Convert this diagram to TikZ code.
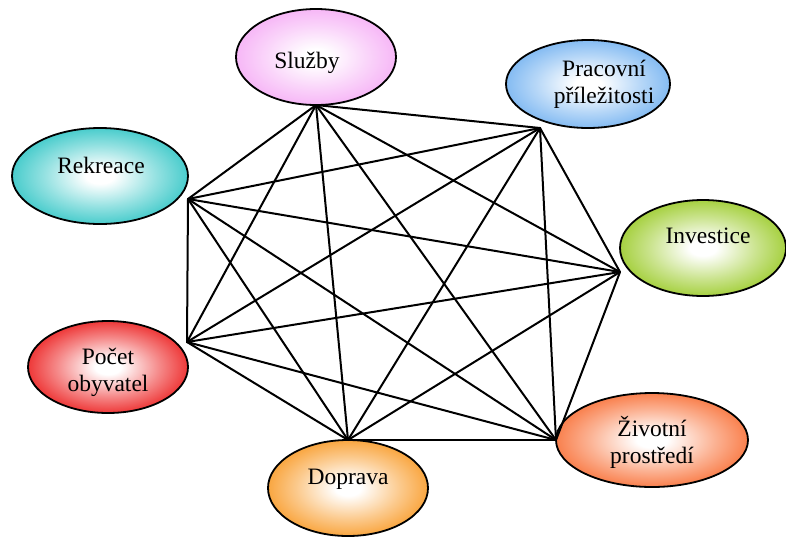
\documentclass[tikz,border=0pt]{standalone}
\usepackage{fontspec}
\setmainfont{Liberation Serif}
\usetikzlibrary{shapes.geometric}
\definecolor{cSl}{RGB}{245,170,245}
\definecolor{cPr}{RGB}{110,175,240}
\definecolor{cRe}{RGB}{40,195,195}
\definecolor{cIn}{RGB}{150,200,30}
\definecolor{cPo}{RGB}{235,20,20}
\definecolor{cDo}{RGB}{248,150,30}
\definecolor{cZi}{RGB}{248,105,45}
\newcommand\mkshade[2]{\pgfdeclareradialshading{#1}{\pgfpoint{0bp}{0bp}}{color(0bp)=(white); color(4bp)=(white); color(16bp)=(#2!50!white); color(29bp)=(#2); color(50bp)=(#2)}}
\mkshade{shSl}{cSl}
\mkshade{shPr}{cPr}
\mkshade{shRe}{cRe}
\mkshade{shIn}{cIn}
\mkshade{shPo}{cPo}
\mkshade{shDo}{cDo}
\mkshade{shZi}{cZi}
\begin{document}
\begin{tikzpicture}[x=1pt,y=-1pt,
  bubble/.style={ellipse, draw=black, line width=1.8pt, inner sep=0pt},
  lbl/.style={font=\fontsize{23.5}{27}\selectfont, align=center, inner sep=0pt},
  link/.style={line width=2pt, line cap=round}]
\useasboundingbox (0,0) rectangle (786,536);
% ellipses
\node[bubble, shading=shSl, minimum width=160pt, minimum height=96pt] (eSl) at (316,57) {};
\node[bubble, shading=shPr, minimum width=164pt, minimum height=88pt] (ePr) at (588,84) {};
\node[bubble, shading=shRe, minimum width=176pt, minimum height=96pt] (eRe) at (100,176) {};
\node[bubble, shading=shIn, minimum width=166pt, minimum height=96pt] (eIn) at (703,248) {};
\node[bubble, shading=shPo, minimum width=160pt, minimum height=92pt] (ePo) at (108,367) {};
\node[bubble, shading=shDo, minimum width=160pt, minimum height=96pt] (eDo) at (348,488) {};
\node[bubble, shading=shZi, minimum width=192pt, minimum height=94pt] (eZi) at (652,440) {};
% texts
\node[lbl, anchor=base] (tSl) at (307,68) {Služby};
\node[lbl] (tPr) at (604,84) {Pracovní\\příležitosti};
\node[lbl, anchor=base] (tRe) at (101,173) {Rekreace};
\node[lbl, anchor=base] (tIn) at (708,243) {Investice};
\node[lbl] (tPo) at (108,372) {Počet\\obyvatel};
\node[lbl, anchor=base] (tDo) at (348,484) {Doprava};
\node[lbl] (tZi) at (652,442) {Životní\\prostředí};
% graph vertices
\coordinate (vS) at (316,105);
\coordinate (vP) at (540,128);
\coordinate (vR) at (188,199);
\coordinate (vI) at (620,272);
\coordinate (vO) at (187,342);
\coordinate (vD) at (348,440);
\coordinate (vZ) at (556,440);
\foreach \a/\b in {vS/vP,vS/vR,vS/vI,vS/vO,vS/vD,vS/vZ,
                   vP/vR,vP/vI,vP/vO,vP/vD,vP/vZ,
                   vR/vI,vR/vO,vR/vD,vR/vZ,
                   vI/vO,vI/vD,vI/vZ,
                   vO/vD,vO/vZ,
                   vD/vZ}
  \draw[link] (\a) -- (\b);
\end{tikzpicture}
\end{document}
